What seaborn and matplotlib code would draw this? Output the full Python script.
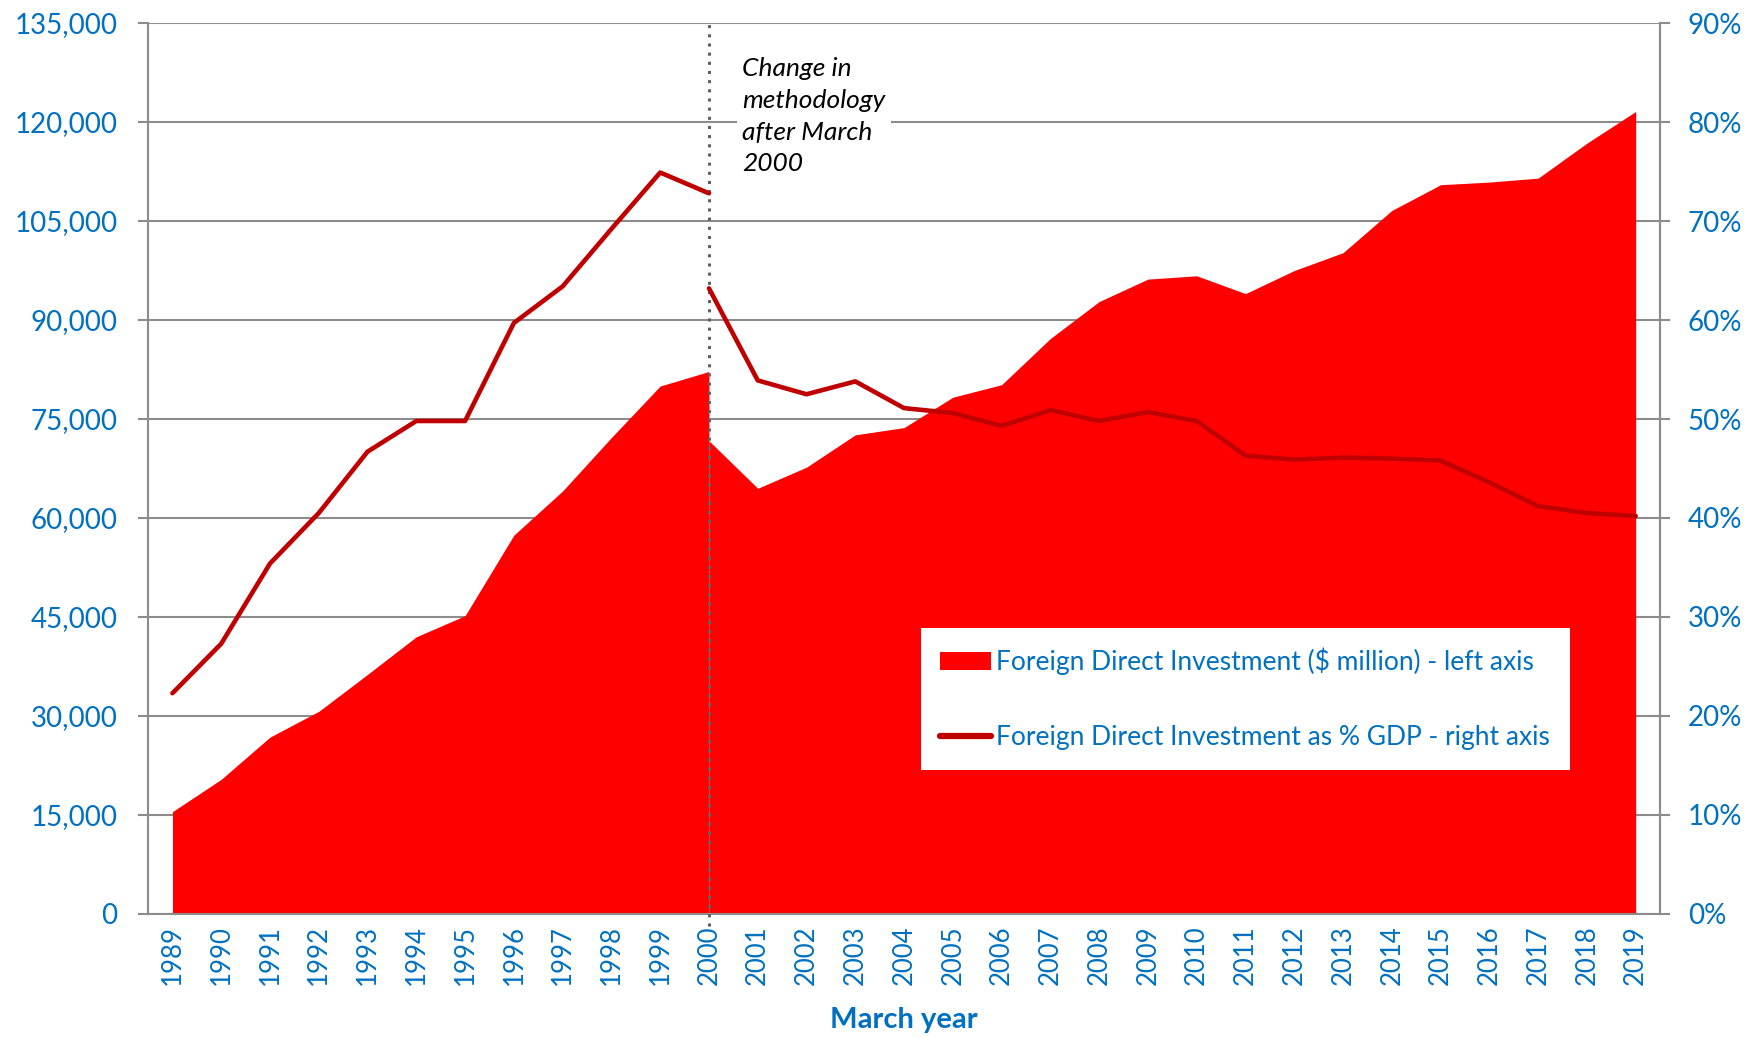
import matplotlib
matplotlib.use("Agg")
import matplotlib.pyplot as plt
import seaborn as sns
import pandas as pd
import numpy as np
from matplotlib.patches import Patch
from matplotlib.lines import Line2D
from matplotlib.ticker import FuncFormatter, FixedLocator

years = [str(y) for y in range(1989, 2020)]

# FDI ($ million) - old methodology 1989-2000, new methodology 2000-2019
fdi_old = [15500, 20400, 26800, 30700, 36300, 42000, 45200, 57400, 64100, 72200, 80000, 82200]
fdi_new = [71700, 64500, 67700, 72600, 73700, 78300, 80200, 87200, 92800, 96200, 96700,
           94000, 97500, 100200, 106600, 110500, 110900, 111500, 116800, 121600]

# FDI as % of GDP
pct_old = [22.3, 27.3, 35.4, 40.5, 46.7, 49.8, 49.8, 59.7, 63.4, 69.2, 74.9, 72.8]
pct_new = [63.2, 53.9, 52.5, 53.8, 51.1, 50.6, 49.3, 50.9, 49.8, 50.7, 49.8,
           46.3, 45.9, 46.1, 46.0, 45.8, 43.6, 41.2, 40.5, 40.2]

break_idx = years.index("2000")
blue = "#0070C0"
red = "#FF0000"
dark_red = "#C00000"
grid_gray = "#8C8C8C"

sns.set_style("white")
plt.rcParams["font.family"] = ["Lato", "DejaVu Sans"]

fig = plt.figure(figsize=(17.48, 10.38), dpi=100)
ax = fig.add_axes([0.0847, 0.1195, 0.865, 0.8583])

x_old = np.arange(0, break_idx + 1)
x_new = np.arange(break_idx, len(years))

# gridlines
ax.set_axisbelow(True)
ax.yaxis.grid(True, color=grid_gray, linewidth=1.5, zorder=0)

ax.fill_between(x_old, 0, fdi_old, color=red, linewidth=0, zorder=2)
ax.fill_between(x_new, 0, fdi_new, color=red, linewidth=0, zorder=2)

ax.set_xlim(-0.5, len(years) - 0.5)
ax.set_ylim(0, 135000)
ax.set_yticks(np.arange(0, 135001, 15000))
ax.yaxis.set_major_formatter(FuncFormatter(lambda v, p: f"{int(v):,}"))

ax.set_xticks(np.arange(len(years)))
ax.set_xticklabels(years, rotation=90)
ax.xaxis.set_minor_locator(FixedLocator(np.arange(-0.5, len(years), 1.0)))
ax.tick_params(axis="x", which="major", length=0, pad=8, labelsize=18.5, labelcolor=blue)
ax.tick_params(axis="x", which="minor", length=7, width=1.5, color=grid_gray, direction="out")
ax.tick_params(axis="y", which="major", length=7, width=1.5, color=grid_gray, direction="out",
               pad=15, labelsize=20, labelcolor=blue, left=True)

ax.spines["top"].set_visible(False)
for s in ["left", "bottom", "right"]:
    ax.spines[s].set_color(grid_gray)
    ax.spines[s].set_linewidth(1.5)

# secondary axis
ax2 = ax.twinx()
ax2.set_ylim(0, 90)
ax2.set_yticks(np.arange(0, 91, 10))
ax2.yaxis.set_major_formatter(FuncFormatter(lambda v, p: f"{int(v)}%"))
ax2.tick_params(axis="y", length=7, width=1.5, color=grid_gray, direction="out",
                pad=13, labelsize=20, labelcolor=blue, right=True)
for s in ["top", "left", "bottom"]:
    ax2.spines[s].set_visible(False)
ax2.spines["right"].set_color(grid_gray)
ax2.spines["right"].set_linewidth(1.5)

# methodology break line
ax2.plot([break_idx, break_idx], [-1.2, 90], linestyle=(0, (1, 2)), color="#5F5F5F",
         linewidth=2.2, zorder=3, clip_on=False)

df_old = pd.DataFrame({"x": x_old, "pct": pct_old})
df_new = pd.DataFrame({"x": x_new, "pct": pct_new})
sns.lineplot(data=df_old, x="x", y="pct", ax=ax2, color=dark_red, linewidth=3.3, zorder=4)
sns.lineplot(data=df_new, x="x", y="pct", ax=ax2, color=dark_red, linewidth=3.3, zorder=4)
ax2.set_xlabel("")
ax2.set_ylabel("")
ax.set_xlabel("")
ax.set_ylabel("")
ax2.set_xlim(-0.5, len(years) - 0.5)

ax2.text(break_idx + 0.68, 86.6, "Change in\nmethodology\nafter March\n2000", ha="left", va="top",
         fontsize=19, style="italic", color="black", linespacing=1.47, zorder=5,
         bbox=dict(facecolor="white", edgecolor="none", pad=4))

handles = [Patch(facecolor=red, edgecolor="none"),
           Line2D([0], [0], color=dark_red, linewidth=4.5, solid_capstyle="round")]
labels = ["Foreign Direct Investment ($ million) - left axis",
          "Foreign Direct Investment as % GDP - right axis"]
leg = ax2.legend(handles, labels, loc="upper left", bbox_to_anchor=(0.511, 0.321),
                 frameon=True, fancybox=False, facecolor="white", edgecolor="none",
                 framealpha=1, fontsize=19, handlelength=1.9, handletextpad=0.2,
                 labelspacing=1.9, borderpad=0.75, borderaxespad=0)
for t in leg.get_texts():
    t.set_color(blue)
leg.set_zorder(10)

fig.text(904 / 1748, 1 - 1020 / 1038, "March year", ha="center", va="center",
         fontsize=21, fontweight="bold", color=blue)

fig.savefig("out.png", dpi=100)
